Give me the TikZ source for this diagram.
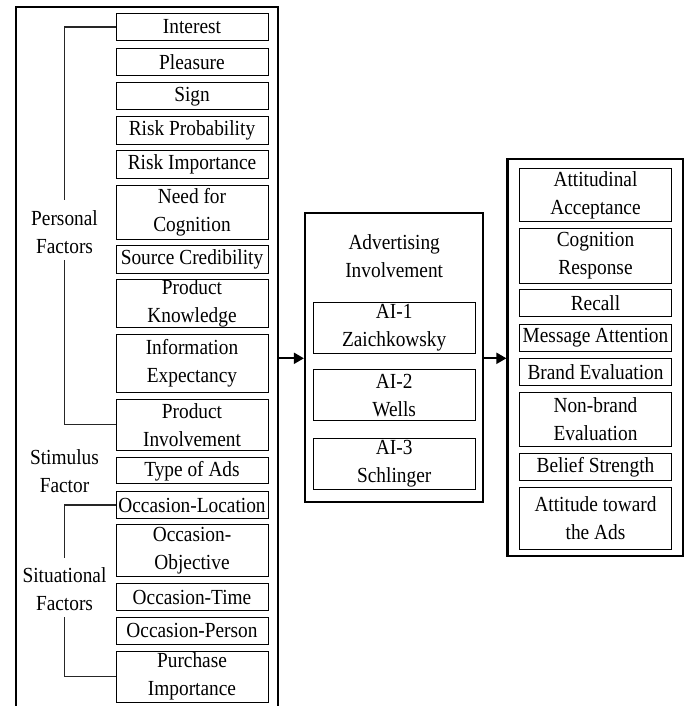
\documentclass[tikz,border=0pt]{standalone}
\usepackage{fontspec}
\setmainfont{Liberation Serif}[FakeStretch=0.9]
\usetikzlibrary{arrows.meta}
\begin{document}
\begin{tikzpicture}[x=1pt,y=-1pt,
  every node/.style={font=\fontsize{21.5}{28}\selectfont, align=center, inner sep=0pt},
  item/.style={draw, line width=1pt, minimum width=152pt},
  aibox/.style={draw, line width=1pt, minimum width=161.7pt},
  outer/.style={draw, line width=2.2pt},
  brace/.style={draw, line width=1.1pt, black!85},
  flow/.style={draw, line width=2pt, -{Triangle[length=10pt,width=11pt]}},
  lab/.style={}]
\useasboundingbox (0,0) rectangle (688,706);
% outer containers
\draw[outer] (16,708) -- (16,7) -- (278,7) -- (278,708);
\node[outer, minimum width=178.3pt, minimum height=288.4pt] (mid) at (394.15,357.5) {};
\node[outer, minimum width=175.2pt, minimum height=396.7pt] (res) at (595.1,357.65) {};
% left items
\node[item, minimum height=27.4pt] (i1) at (192,27) {Interest};
\node[item, minimum height=27.4pt] (i2) at (192,62.2) {Pleasure};
\node[item, minimum height=27.4pt] (i3) at (192,96.3) {Sign};
\node[item, minimum height=27.4pt] (i4) at (192,130.3) {Risk Probability};
\node[item, minimum height=27.4pt] (i5) at (192,164.3) {Risk Importance};
\node[item, minimum height=54.3pt] (i6) at (192,212.2) {Need for\\Cognition};
\node[item, minimum height=28.3pt] (i7) at (192,259.2) {Source Credibility};
\node[item, minimum height=47.3pt] (i8) at (192,303.7) {Product\\Knowledge};
\node[item, minimum height=58pt] (i9) at (192,363.3) {Information\\Expectancy};
\node[item, minimum height=51.7pt] (i10) at (192,424.9) {Product\\Involvement};
\node[item, minimum height=26.3pt] (i11) at (192,470.8) {Type of Ads};
\node[item, minimum height=26.7pt] (i12) at (192,505) {Occasion-Location};
\node[item, minimum height=51.7pt] (i13) at (192,550.8) {Occasion-\\Objective};
\node[item, minimum height=27.4pt] (i14) at (192,597) {Occasion-Time};
\node[item, minimum height=27pt] (i15) at (192,630.8) {Occasion-Person};
\node[item, minimum height=51pt] (i16) at (192,676.5) {Purchase\\Importance};
% group labels
\node[lab] (pf) at (64.5,232) {Personal\\Factors};
\node[lab] (sf) at (64.5,471) {Stimulus\\Factor};
\node[lab] (stf) at (64.5,589.5) {Situational\\Factors};
% brackets
\draw[brace] (i1.west) -| ([yshift=10pt]pf.north);
\draw[brace] (i10.west) -| ([yshift=-6pt]pf.south);
\draw[brace] (i12.west) -| ([yshift=10pt]stf.north);
\draw[brace] (i16.west) -| ([yshift=-6pt]stf.south);
% middle
\node (mt) at (394.2,256.5) {Advertising\\Involvement};
\node[aibox, minimum height=51pt] (a1) at (394.2,327.8) {AI-1\\Zaichkowsky};
\node[aibox, minimum height=50.7pt] (a2) at (394.2,395.3) {AI-2\\Wells};
\node[aibox, minimum height=51pt] (a3) at (394.2,463.8) {AI-3\\Schlinger};
% right items
\node[item, minimum height=52.7pt] (r1) at (595.5,195.3) {Attitudinal\\Acceptance};
\node[item, minimum height=55pt] (r2) at (595.5,255.8) {Cognition\\Response};
\node[item, minimum height=26.7pt] (r3) at (595.5,303.3) {Recall};
\node[item, minimum height=27.3pt] (r4) at (595.5,337.7) {Message Attention};
\node[item, minimum height=27.4pt] (r5) at (595.5,372) {Brand Evaluation};
\node[item, minimum height=54.2pt] (r6) at (595.5,419.6) {Non-brand\\Evaluation};
\node[item, minimum height=26.7pt] (r7) at (595.5,467.3) {Belief Strength};
\node[item, minimum height=62pt] (r8) at (595.5,518.3) {Attitude toward\\the Ads};
% flows
\coordinate (lout) at (278,358.3);
\draw[flow] (lout) -- (lout -| mid.west);
\draw[flow] (mid.east |- lout) -- (lout -| res.west);
\end{tikzpicture}
\end{document}
